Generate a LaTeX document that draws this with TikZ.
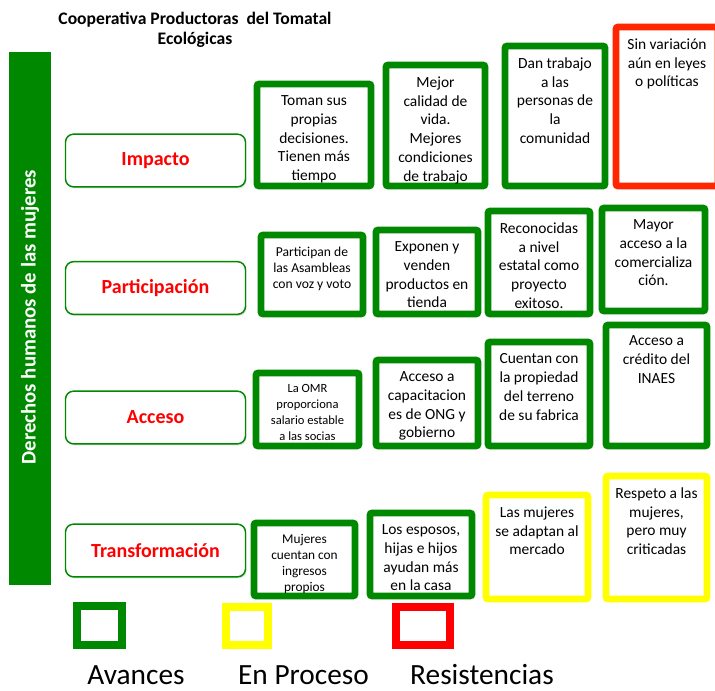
\documentclass[tikz,border=0pt]{standalone}
\usepackage{fontspec}
\setmainfont{Carlito}
\usetikzlibrary{positioning,fit,shadows}

\definecolor{verde}{RGB}{0,137,0}
\definecolor{amarillo}{RGB}{255,255,0}
\definecolor{rojo}{RGB}{255,0,0}
\definecolor{rojocaja}{RGB}{255,38,0}

\tikzset{
  avance/.style={draw=verde, line width=5pt, rounded corners=1.5pt, inner sep=0pt},
  proceso/.style={avance, draw=amarillo},
  resiste/.style={avance, draw=rojocaja},
  celltext/.style={align=center, inner sep=0pt, font=\fontsize{11.6}{14.1}\selectfont},
  smalltext/.style={celltext, font=\fontsize{10.2}{12.3}\selectfont},
  categoria/.style={draw=verde, line width=1.1pt, rounded corners=6pt, fill=white,
    minimum width=135pt, minimum height=39.5pt, text=rojo,
    font=\fontsize{15}{18}\selectfont\bfseries,
    drop shadow={opacity=0.25, shadow xshift=0.8pt, shadow yshift=-1.2pt}},
  muestra/.style={line width=6.4pt, inner sep=0pt},
  leyenda/.style={anchor=base, inner sep=0pt, font=\fontsize{22}{26}\selectfont}
}

\begin{document}
\begin{tikzpicture}[x=0.75pt, y=-0.75pt]
  \useasboundingbox (0,0) rectangle (715,690);
  \clip (0,0) rectangle (715,690);
  \fill[white] (0,0) rectangle (715,690);

  % title
  \node[anchor=north, align=center, inner sep=0pt, font=\fontsize{13.2}{14.6}\selectfont\bfseries]
    (titulo) at (195,12) {Cooperativa Productoras\ \ del Tomatal\\Ecológicas};

  % side bar
  \node[fill=verde, inner sep=0pt, fit={(9,52) (51,585)}] (barra) {};
  \node[rotate=90, text=white, font=\fontsize{15.6}{18}\selectfont\bfseries] (barratxt) at (30,317)
    {Derechos humanos de las mujeres};

  % categories
  \node[categoria] (impacto) at (155.5,160.5) {Impacto};
  \node[categoria] (particip) at (155.5,288) {Participación};
  \node[categoria] (acceso) at (155.5,417.5) {Acceso};
  \node[categoria] (transf) at (155.5,550.5) {Transformación};

  % Impacto
  \node[avance, fit={(257,84) (371,186)}] (imp1) {};
  \node[celltext, below=11pt of imp1.north] (imp1t) {Toman sus\\propias\\decisiones.\\Tienen más\\tiempo};
  \node[avance, fit={(386,65) (485,186)}] (imp2) {};
  \node[celltext, below=11pt of imp2.north] (imp2t) {Mejor\\calidad de\\vida.\\Mejores\\condiciones\\de trabajo};
  \node[avance, fit={(505,46) (605,186)}] (imp3) {};
  \node[celltext, below=11pt of imp3.north] (imp3t) {Dan trabajo\\a las\\personas de\\la\\comunidad};
  \node[resiste, fit={(616,27) (718,186)}] (imp4) {};
  \node[celltext, below=11pt of imp4.north] (imp4t) {Sin variación\\aún en leyes\\o políticas};

  % Participacion
  \node[avance, fit={(261,235) (363,314)}] (par1) {};
  \node[smalltext, below=11pt of par1.north] (par1t) {Participan de\\las Asambleas\\con voz y voto};
  \node[avance, fit={(376,230) (478,314)}] (par2) {};
  \node[celltext, below=11pt of par2.north] (par2t) {Exponen y\\venden\\productos en\\tienda};
  \node[avance, fit={(488,211) (590,314)}] (par3) {};
  \node[celltext, below=11pt of par3.north] (par3t) {Reconocidas\\a nivel\\estatal como\\proyecto\\exitoso.};
  \node[avance, fit={(602,208) (705,311)}] (par4) {};
  \node[celltext, below=11pt of par4.north] (par4t) {Mayor\\acceso a la\\comercializa\\ción.};

  % Acceso
  \node[avance, fit={(256,373) (359,446)}] (acc1) {};
  \node[smalltext, font=\fontsize{9.4}{12}\selectfont, below=11pt of acc1.north] (acc1t) {La OMR\\proporciona\\salario estable\\a las socias};
  \node[avance, fit={(376,360) (478,446)}] (acc2) {};
  \node[celltext, below=11pt of acc2.north] (acc2t) {Acceso a\\capacitacion\\es de ONG y\\gobierno};
  \node[avance, fit={(488,342) (590,446)}] (acc3) {};
  \node[celltext, below=11pt of acc3.north] (acc3t) {Cuentan con\\la propiedad\\del terreno\\de su fabrica};
  \node[avance, fit={(606,325) (707,446)}] (acc4) {};
  \node[celltext, below=10.5pt of acc4.north] (acc4t) {Acceso a\\crédito del\\INAES};

  % Transformacion
  \node[avance, fit={(254,523) (355,596)}] (tra1) {};
  \node[smalltext, font=\fontsize{10}{12}\selectfont, below=11pt of tra1.north] (tra1t) {Mujeres\\cuentan con\\ingresos\\propios};
  \node[avance, fit={(370,513) (472,596)}] (tra2) {};
  \node[celltext, below=11pt of tra2.north] (tra2t) {Los esposos,\\hijas e hijos\\ayudan más\\en la casa};
  \node[proceso, fit={(486,495) (588,599)}] (tra3) {};
  \node[celltext, below=11pt of tra3.north] (tra3t) {Las mujeres\\se adaptan al\\mercado};
  \node[proceso, fit={(606,476) (707,599)}] (tra4) {};
  \node[celltext, below=11pt of tra4.north] (tra4t) {Respeto a las\\mujeres,\\pero muy\\criticadas};

  % legend
  \node[muestra, draw=verde, fit={(77,606) (122,645)}] (leyav) {};
  \node[muestra, draw=amarillo, fit={(226,607) (268,645)}] (leypr) {};
  \node[muestra, draw=rojo, fit={(396,607) (450,645)}] (leyre) {};
  \node[leyenda] (leyavt) at (136,684) {Avances};
  \node[leyenda] (leyprt) at (303.5,684) {En Proceso};
  \node[leyenda] (leyret) at (482,684) {Resistencias};
\end{tikzpicture}
\end{document}
